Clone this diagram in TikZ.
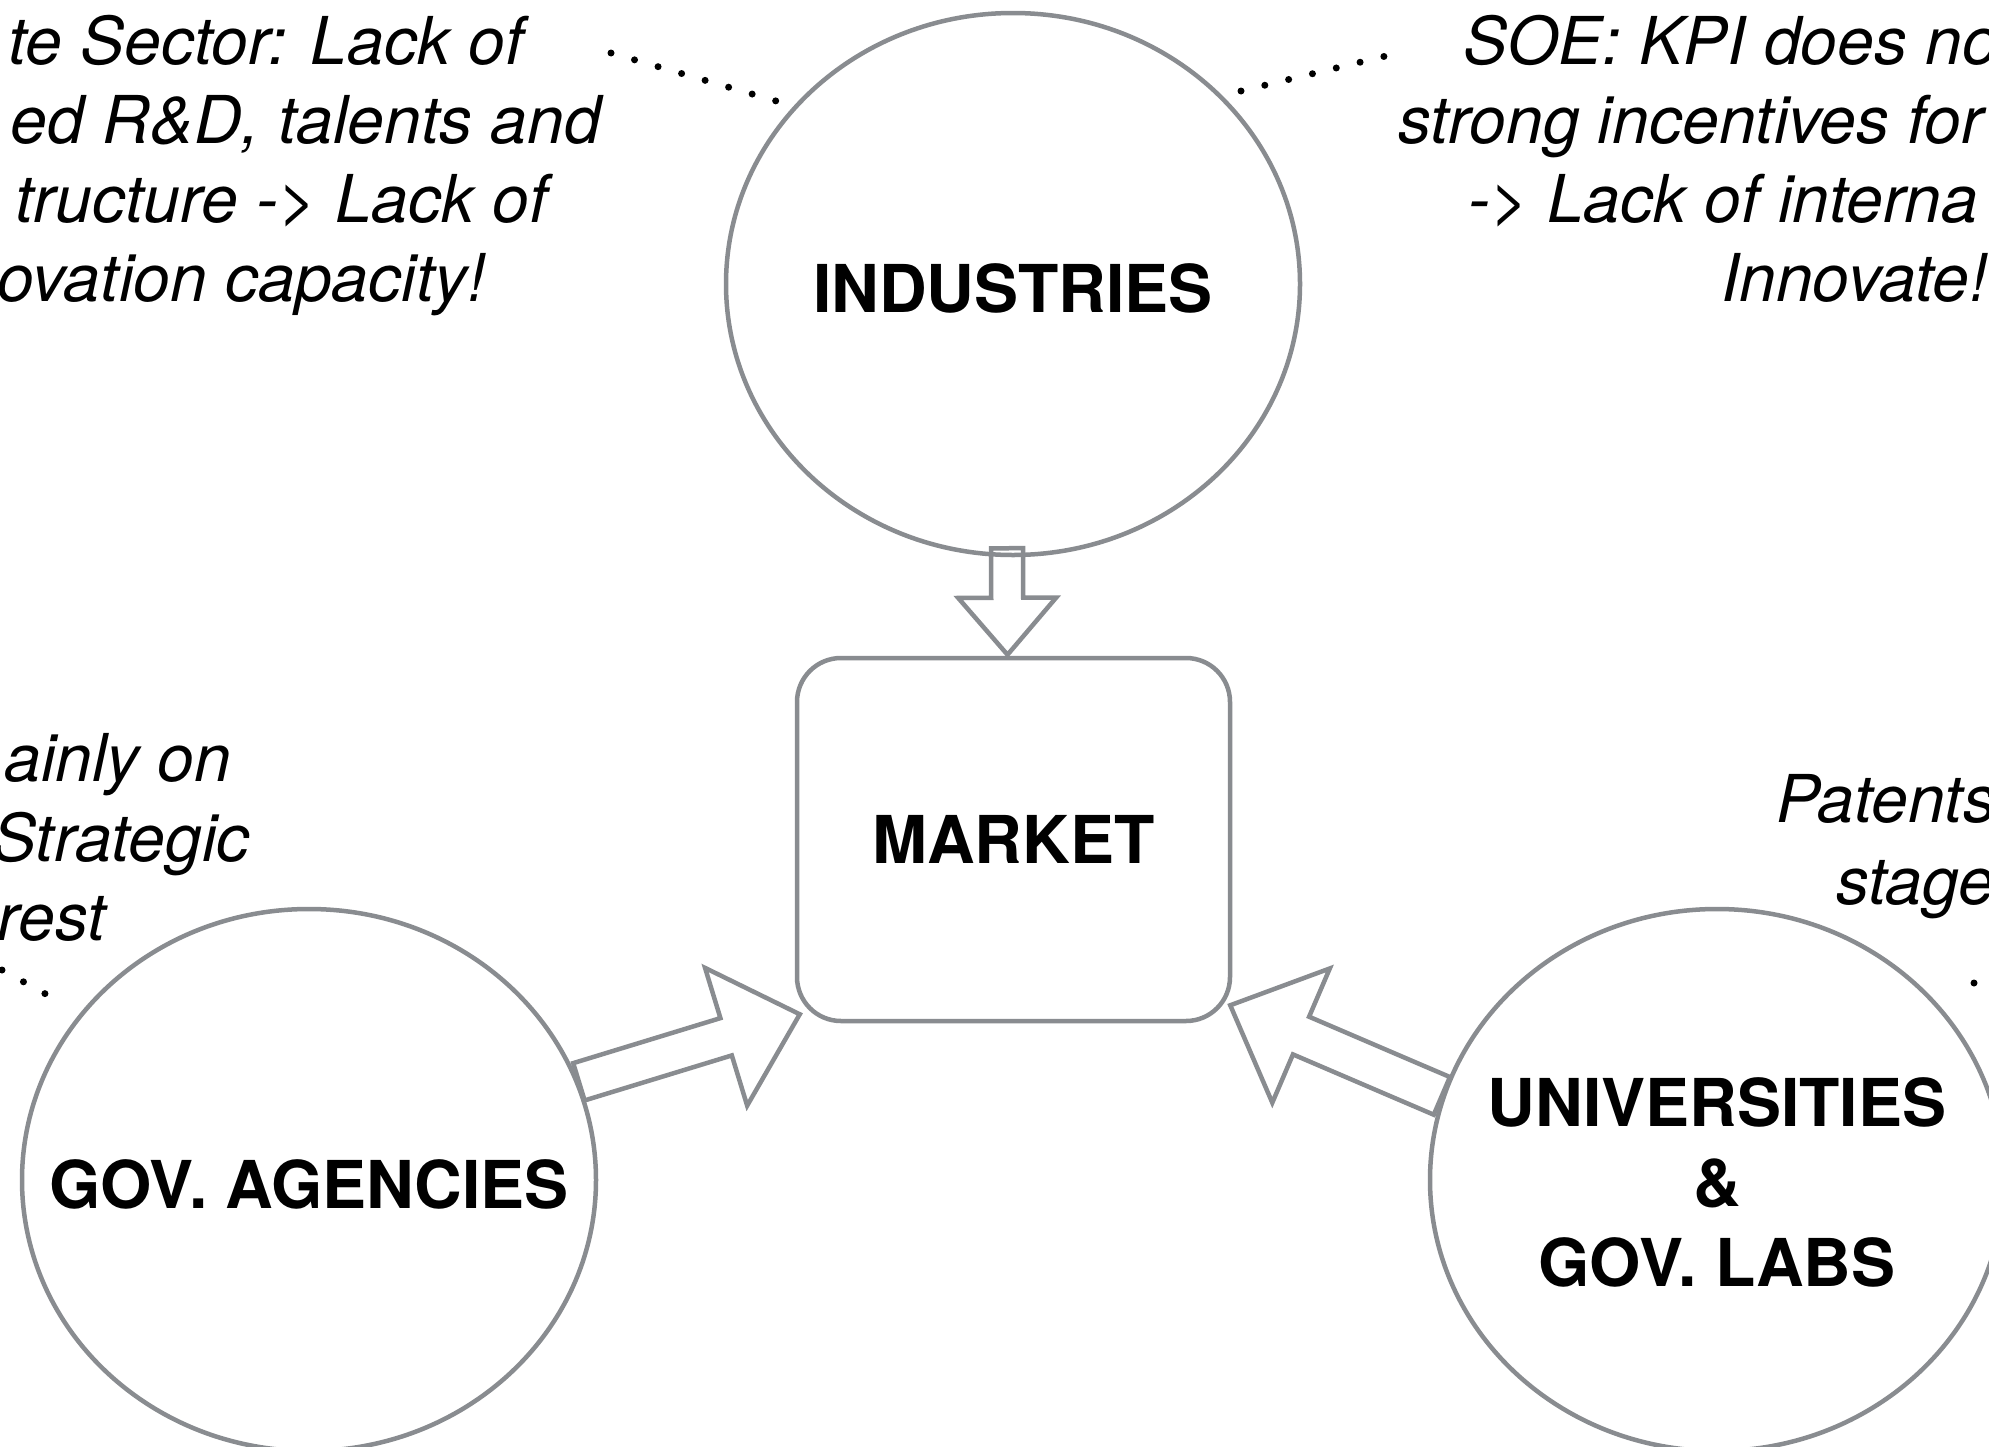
\documentclass[tikz,border=0pt]{standalone}
\usepackage{fontspec}
\setmainfont{TeX Gyre Heros}
\usetikzlibrary{shapes.geometric,calc}

\definecolor{edgegray}{HTML}{898C90}

\tikzset{
  bubble/.style={draw=edgegray, line width=4.5pt, ellipse, inner sep=0pt,
    minimum width=574pt, minimum height=542pt},
  heading/.style={inner sep=0pt, align=center,
    font=\fontsize{66}{80}\selectfont\bfseries},
  marketbox/.style={draw=edgegray, line width=4.5pt, rounded corners=44pt,
    minimum width=433pt, minimum height=363pt, inner sep=0pt,
    font=\fontsize{66}{80}\selectfont\bfseries},
  fatarrow/.style={draw=edgegray, line width=4.5pt, line join=miter},
  note/.style={inner sep=0pt, font=\fontsize{66}{79}\selectfont\itshape},
  dotline/.style={line width=7pt, line cap=round, dash pattern=on 0pt off 24.5pt},
}

% block arrow: #1 tail, #2 tip, #3 half shaft width, #4 half head width, #5 head length
\newcommand\blockarrow[5]{%
  \coordinate (ba-base) at ($(#2)!#5!(#1)$);
  \draw[fatarrow]
    ($(#1)!#3!90:(#2)$) -- ($(ba-base)!#3!90:(#2)$) -- ($(ba-base)!#4!90:(#2)$)
    -- (#2)
    -- ($(ba-base)!#4!-90:(#2)$) -- ($(ba-base)!#3!-90:(#2)$) -- ($(#1)!#3!-90:(#2)$)
    -- cycle;
}

\begin{document}
\begin{tikzpicture}[x=1pt, y=-1pt]
\useasboundingbox (0,0) rectangle (1989,1446);
\fill[white] (0,0) rectangle (1989,1446);
\clip (0,0) rectangle (1989,1446);

% actors
\node[bubble] (ind) at (1013,284) {};
\node[bubble] (gov) at (309,1180) {};
\node[bubble] (uni) at (1717,1180) {};
\node[heading] (indL) at ($(ind.center)+(0,4)$) {INDUSTRIES};
\node[heading] (govL) at ($(gov.center)+(0,4)$) {GOV. AGENCIES};
\node[heading] (uniL) at ($(uni.center)+(0,2)$) {UNIVERSITIES\\\&\\GOV. LABS};
\node[marketbox] (mkt) at (1013.5,839.5) {MARKET};

% flows into the market
\coordinate (indTail) at ($(ind.south)+(-6,-9)$);
\coordinate (indTip) at ($(mkt.north)+(-6,-1)$);
\blockarrow{indTail}{indTip}{16pt}{49pt}{57pt}

\coordinate (govTail) at (gov.20);
\coordinate (govTip) at ($(mkt.south west)+(5,-9)$);
\blockarrow{govTail}{govTip}{19.5pt}{72pt}{77pt}

\coordinate (uniTail) at (uni.163);
\coordinate (uniTip) at ($(mkt.south east)+(-2,-18)$);
\blockarrow{uniTail}{uniTip}{20.5pt}{73pt}{77pt}

% comments on the actors
\node[note, anchor=base east] (pl1) at (524,64)  {te Sector: Lack of};
\node[note, anchor=base east] (pl2) at (601,143) {ed R\&D, talents and};
\node[note, anchor=base east] (pl3) at (548,222) {tructure -> Lack of};
\node[note, anchor=base east] (pl4) at (486,301) {ovation capacity!};

\node[note, anchor=base west] (sl1) at (1463,64)  {SOE: KPI does no};
\node[note, anchor=base west] (sl2) at (1398,143) {strong incentives for};
\node[note, anchor=base west] (sl3) at (1468,222) {-> Lack of interna};
\node[note, anchor=base west] (sl4) at (1721,301) {Innovate!};

\node[note, anchor=base east] (gl1) at (231,781) {ainly on};
\node[note, anchor=base east] (gl2) at (250,861) {Strategic};
\node[note, anchor=base east] (gl3) at (106,940) {rest};

\node[note, anchor=base west] (ul1) at (1776,822) {Patents};
\node[note, anchor=base west] (ul2) at (1836,904) {stage};

% dotted leaders
\coordinate (dA1) at (611,53);   \coordinate (dA2) at (783,103);
\coordinate (dB1) at (1241,91);  \coordinate (dB2) at (1390,55);
\coordinate (dC1) at (2,970);    \coordinate (dC2) at (62,1003);
\coordinate (dD1) at (1974,983); \coordinate (dD2) at (2010,1000);
\draw[dotline] (dA1) -- (dA2);
\draw[dotline] (dB1) -- (dB2);
\draw[dotline] (dC1) -- (dC2);
\draw[dotline] (dD1) -- (dD2);
\end{tikzpicture}
\end{document}
